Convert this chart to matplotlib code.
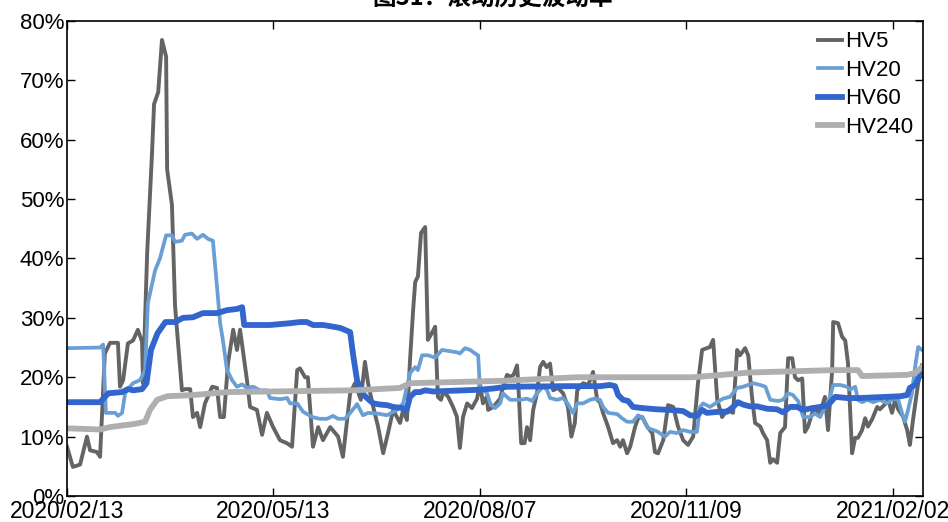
import numpy as np
import matplotlib
matplotlib.use("Agg")
import matplotlib.pyplot as plt
from matplotlib.ticker import FuncFormatter

plt.rcParams['font.family'] = ['Liberation Sans', 'DejaVu Sans']

# trading-day index (0 = 2020/02/13) and volatility in %
hv5_x = [0, 1.7, 3.8, 5.8, 6.7, 8.7, 9.6, 11.0, 12.5, 14.8, 15.4, 16.3, 17.7, 19.2, 20.6, 21.8, 22.1,
         23.3, 24.7, 25.3, 26.5, 27.6, 28.8, 29.1, 30.5, 31.4, 33.4, 34.3, 35.8, 36.6, 37.8, 38.7,
         40.1, 42.2, 43.6, 44.5, 45.6, 46.8, 48.3, 49.4, 50.3, 52.3, 53.2, 55.2, 56.7, 58.1, 59.9,
         61.9, 63.9, 65.4, 66.9, 67.7, 69.2, 70.0, 71.5, 73.0, 74.4, 76.5, 78.8, 80.2, 82.3, 83.7,
         85.4, 86.6, 87.5, 89.0, 90.4, 91.9, 93.3, 94.8, 95.8, 96.8, 97.7, 98.8, 99.7, 100.6, 101.2,
         102.0, 102.9, 104.1, 104.9, 106.0, 107.0, 107.8, 108.7, 109.4, 110.8, 112.2, 113.3, 114.2,
         115.1, 116.3, 117.7, 119.2, 120.0, 120.9, 122.0, 122.4, 123.9, 125.9, 126.7, 127.9, 128.9,
         129.8, 130.8, 131.1, 132.0, 133.0, 133.7, 134.6, 135.5, 136.6, 137.5, 138.4, 139.4, 140.4,
         141.3, 142.7, 144.2, 145.6, 146.6, 147.6, 148.3, 149.1, 150.0, 151.5, 152.9, 154.1, 154.9,
         155.8, 157.3, 158.7, 159.9, 160.8, 161.6, 162.8, 163.7, 165.1, 166.0, 167.2, 168.6, 170.1,
         170.9, 171.8, 173.3, 174.7, 176.2, 177.6, 179.1, 180.5, 182.0, 183.4, 184.6, 186.0, 186.9,
         187.8, 189.0, 190.4, 191.9, 193.6, 194.8, 195.6, 197.1, 198.0, 199.1, 200.0, 201.5, 202.3,
         203.5, 204.4, 205.2, 206.4, 207.3, 208.7, 209.6, 210.8, 211.6, 212.5, 213.7, 214.5, 215.4,
         216.6, 217.4, 218.9, 220.3, 221.2, 222.4, 222.7, 224.1, 225.3, 226.2, 227.0, 228.2, 229.1,
         229.9, 231.1, 232.0, 232.8, 234.0, 235.5, 236.3, 237.8, 238.7, 239.8, 240.7, 241.6, 243.0,
         244.2, 245.0, 245.9, 247.4, 248.5]
hv5_y = [8.3, 4.9, 5.3, 10.0, 7.7, 7.4, 6.6, 24.0, 25.8, 25.8, 18.4, 19.5, 25.7, 26.2, 28.0, 26.0, 19.0,
         41.0, 57.7, 66.0, 68.0, 76.8, 74.0, 55.0, 49.0, 32.0, 17.8, 18.0, 18.0, 13.3, 14.0, 11.6,
         15.6, 18.4, 18.2, 13.3, 13.3, 22.4, 28.0, 24.6, 28.0, 19.5, 15.0, 14.5, 10.3, 14.0, 11.6,
         9.4, 8.9, 8.3, 21.2, 21.5, 20.0, 20.0, 8.3, 11.6, 9.4, 11.6, 10.0, 6.6, 17.3, 19.0,
         16.2, 22.6, 19.0, 15.0, 11.7, 7.2, 10.6, 14.5, 13.4, 12.3, 14.5, 12.8, 22.9, 31.3, 36.0,
         37.0, 44.3, 45.3, 26.3, 27.4, 28.5, 16.7, 16.2, 17.6, 16.7, 15.0, 13.4, 8.1,
         13.3, 15.6, 14.8, 16.4, 19.0, 15.6, 16.7, 14.5, 15.0, 16.4, 18.3, 20.4, 20.1,
         20.4, 22.0, 19.7, 8.9, 8.9, 11.6, 9.4, 14.5, 17.3, 21.7, 22.6, 21.7, 22.3,
         17.8, 18.2, 17.3, 15.0, 10.0, 12.3, 17.8, 18.4, 19.0, 18.7, 20.9, 16.2, 15.8,
         14.0, 11.6, 8.9, 9.4, 8.3, 9.4, 7.2, 8.3, 11.6, 13.1, 13.3, 11.7, 10.6,
         7.4, 7.2, 9.4, 15.3, 15.0, 11.7, 9.4, 8.6, 10.0, 19.0, 24.6, 24.9, 25.1,
         26.3, 16.2, 13.3, 14.5, 14.0, 24.6, 23.7, 24.9, 23.7, 16.7, 12.3, 11.7, 10.6,
         9.4, 5.6, 6.2, 5.6, 10.6, 11.6, 23.2, 23.2, 20.0, 19.5, 19.8, 10.8, 11.7,
         14.0, 14.3, 14.0, 16.7, 11.1, 21.2, 29.3, 29.1, 26.8, 26.2, 22.4, 7.2, 9.8,
         9.8, 11.1, 13.1, 11.7, 12.9, 15.0, 14.6, 15.5, 16.2, 14.0, 16.2, 14.6, 13.4,
         11.1, 8.6, 12.8, 19.0, 22.0]

hv20_x = [0, 9.6, 10.5, 11.3, 12.5, 14.0, 14.8, 16.0, 16.9, 17.7, 19.2, 21.2, 22.7, 23.5, 25.6, 27.0,
          28.8, 30.5, 31.4, 33.4, 34.3, 36.3, 37.8, 39.5, 41.0, 42.4, 43.6, 44.5, 45.3, 46.5, 48.0,
          49.4, 50.9, 52.3, 54.1, 56.1, 58.1, 59.0, 61.9, 64.0, 64.8, 66.9, 68.6, 71.2, 73.5, 75.6,
          77.3, 78.8, 80.8, 82.3, 83.7, 84.3, 86.0, 87.5, 90.1, 93.0, 95.9, 97.7, 99.7, 101.2, 102.0,
          103.2, 104.9, 107.0, 109.0, 111.3, 113.4, 114.2, 115.7, 117.2, 118.6, 119.5, 120.0, 122.1,
          123.0, 124.4, 125.9, 126.7, 128.8, 131.7, 133.7, 135.2, 136.6, 138.4, 139.5, 140.4, 142.4,
          144.2, 145.6, 147.1, 148.3, 150.0, 152.0, 153.5, 154.9, 155.8, 157.3, 159.9, 161.3, 162.8,
          164.5, 166.0, 167.4, 168.9, 171.5, 173.8, 175.3, 177.3, 179.1, 181.1, 183.1, 184.0, 184.9,
          186.9, 189.0, 190.7, 192.7, 194.8, 196.5, 199.4, 201.5, 203.0, 204.4, 206.7, 208.1, 209.6,
          211.0, 212.5, 214.0, 216.0, 217.4, 218.9, 220.3, 221.8, 222.7, 224.7, 226.7, 227.6, 229.1,
          229.9, 231.1, 232.6, 234.3, 236.3, 238.4, 240.1, 241.6, 242.7, 243.6, 244.5, 245.6, 246.5,
          247.4, 248.5]
hv20_y = [24.9, 25.0, 25.5, 14.0, 14.0, 14.0, 13.5, 14.0, 17.3, 18.0, 19.0, 19.5, 21.2, 32.5, 38.0, 40.0,
          43.9, 43.9, 42.8, 43.0, 44.0, 44.2, 43.3, 44.0, 43.3, 43.0, 35.2, 29.1, 26.3, 21.2, 19.5,
          18.4, 18.8, 18.2, 18.4, 17.8, 17.8, 16.5, 16.3, 16.5, 15.6, 15.6, 14.2, 13.3, 13.0, 13.0,
          13.5, 13.0, 13.0, 14.0, 15.0, 15.5, 13.6, 14.0, 13.9, 13.6, 14.5, 15.6, 20.7, 21.7, 21.2,
          23.7, 23.7, 23.3, 24.6, 24.4, 24.2, 24.0, 24.9, 24.6, 24.0, 23.7, 18.4, 17.3,
          15.6, 14.8, 15.6, 17.3, 16.2, 16.2, 16.4, 16.0, 17.3, 18.4, 17.9, 16.5, 16.2,
          16.5, 15.5, 14.0, 15.6, 15.6, 16.2, 16.4, 16.2, 15.0, 14.0, 13.8, 13.1, 12.5,
          12.5, 13.6, 13.1, 11.4, 10.9, 10.0, 10.8, 10.6, 11.1, 10.8, 10.8, 15.0, 15.6,
          15.0, 15.8, 16.4, 16.7, 18.2, 18.4, 19.0, 18.7, 18.4, 16.2, 16.0, 16.2, 17.3,
          17.0, 16.0, 13.3, 13.3, 13.9, 13.3, 15.0, 16.7, 18.7, 18.7, 18.4, 17.9, 18.4,
          16.2, 15.8, 16.2, 15.8, 16.2, 15.6, 16.4, 16.2, 14.0, 12.5, 14.6, 17.3, 21.7,
          25.1, 24.6]

hv60_x = [0, 9.6, 12.0, 16.0, 17.7, 19.3, 21.8, 23.1, 24.4, 26.3, 28.6, 31.4, 33.7, 36.6, 39.5, 43.6,
          46.5, 49.4, 50.9, 51.5, 54.1, 59.0, 64.8, 67.7, 69.7, 71.5, 74.4, 76.5, 79.4, 82.3, 83.1,
          84.3, 85.8, 87.2, 89.0, 91.0, 93.0, 94.8, 97.7, 98.7, 99.7, 101.2, 102.6, 104.1, 106.4,
          120.0, 123.8, 127.9, 145.3, 155.0, 157.8, 159.3, 160.2, 161.6, 163.1, 164.5, 167.4, 171.5,
          175.3, 179.1, 181.1, 183.1, 184.6, 186.0, 187.8, 189.8, 191.9, 193.6, 195.0, 196.5, 198.5,
          200.6, 203.5, 206.4, 208.1, 210.2, 212.2, 214.0, 216.6, 218.9, 221.2, 223.3, 226.7, 230.5,
          234.3, 238.4, 242.2, 244.2, 245.0, 246.5, 248.0, 248.5]
hv60_y = [15.8, 15.8, 17.3, 17.5, 18.0, 17.8, 18.0, 19.0, 24.6, 27.4, 29.3, 29.3, 30.0, 30.1, 30.8, 30.8,
          31.3, 31.5, 31.8, 28.8, 28.8, 28.8, 29.1, 29.3, 29.3, 28.8, 28.8, 28.6, 28.3, 27.6, 24.0,
          19.5, 17.3, 16.5, 15.6, 15.4, 15.3, 15.0, 14.8, 14.5, 16.7, 17.5, 17.5, 17.8, 17.6,
          17.9, 18.1, 18.4, 18.5, 18.5, 18.7, 18.5, 17.0, 16.2, 16.0, 15.0, 14.8, 14.6,
          14.5, 14.3, 13.6, 13.5, 14.5, 14.0, 14.1, 14.2, 14.2, 15.0, 15.8, 15.4, 15.1,
          15.1, 14.7, 14.6, 14.1, 15.0, 15.0, 14.5, 14.8, 15.0, 15.3, 16.7, 16.5, 16.5,
          16.6, 16.7, 16.8, 17.0, 18.2, 18.7, 20.4, 20.7]

hv240_x = [0, 9.6, 12.5, 16.3, 19.2, 22.7, 24.1, 26.2, 29.1, 36.6, 46.5, 83.4, 96.8, 99.7, 126.7,
           148.3, 182.0, 198.5, 222.7, 229.9, 231.1, 244.2, 246.5, 248.5]
hv240_y = [11.4, 11.2, 11.6, 11.9, 12.1, 12.5, 14.5, 16.2, 16.8, 17.0, 17.5, 17.8, 18.2, 19.0, 19.4,
           20.0, 20.0, 20.8, 21.2, 21.2, 20.2, 20.4, 20.7, 21.7]

tick_pos = [0, 60, 120, 180, 240]
tick_labels = ['2020/02/13', '2020/05/13', '2020/08/07', '2020/11/09', '2021/02/02']

fig = plt.figure(figsize=(9.48, 5.22), dpi=100)
ax = fig.add_axes([0.0707, 0.0498, 0.9029, 0.91])

ax.plot(hv5_x, np.array(hv5_y) / 100, color='#646464', lw=2.8, label='HV5')
ax.plot(hv20_x, np.array(hv20_y) / 100, color='#6A9FD6', lw=2.7, label='HV20')
ax.plot(hv60_x, np.array(hv60_y) / 100, color='#3366CC', lw=4.2, label='HV60')
ax.plot(hv240_x, np.array(hv240_y) / 100, color='#AFAFAF', lw=4.2, label='HV240')

ax.set_xlim(0, 248.8)
ax.set_ylim(0, 0.8)
ax.set_yticks(np.arange(0, 0.81, 0.1))
ax.yaxis.set_major_formatter(FuncFormatter(lambda v, p: '{:.0f}%'.format(v * 100)))
ax.set_xticks(tick_pos)
ax.set_xticklabels(tick_labels)
ax.tick_params(direction='in', length=6, width=1, top=True, right=True, labelsize=16, pad=2)
ax.tick_params(axis='x', labelsize=16.5, pad=3)
for s in ax.spines.values():
    s.set_linewidth(1.2)

leg = ax.legend(loc='upper right', bbox_to_anchor=(0.995, 0.99), frameon=False, fontsize=16,
                handlelength=1.05, handletextpad=0.15, labelspacing=0.34, borderpad=0.25,
                borderaxespad=0.0)

fig.text(0.52, 1 - 5 / 522, '图31：滚动历史波动率', ha='center', va='baseline', fontsize=17,
         fontweight='bold', family=['Noto Sans CJK SC', 'DejaVu Sans'])

fig.savefig('out.png', dpi=100)
